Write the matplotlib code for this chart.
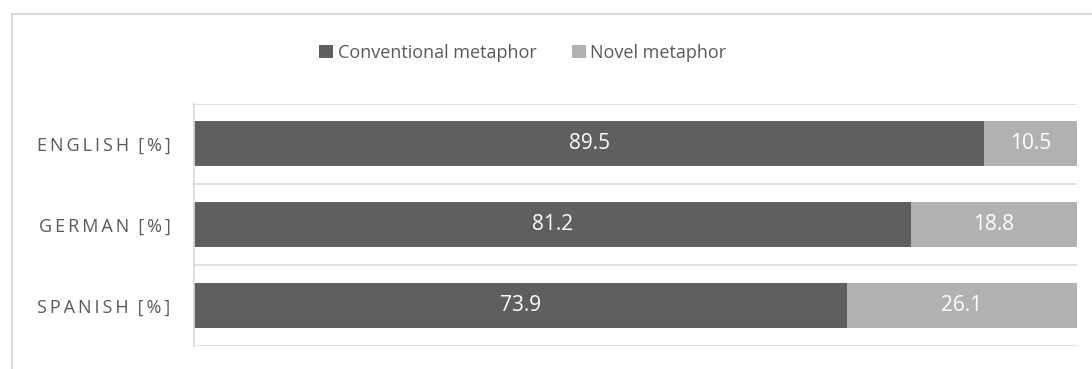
import matplotlib
matplotlib.use('Agg')
import matplotlib.pyplot as plt
from matplotlib.patches import Rectangle

plt.rcParams['font.family'] = ['Open Sans', 'DejaVu Sans']

# ------------------------------------------------------------
# Data
# ------------------------------------------------------------
languages = ['ENGLISH [%]', 'GERMAN [%]', 'SPANISH [%]']
conventional = [89.5, 81.2, 73.9]
novel = [10.5, 18.8, 26.1]

DARK = '#5f5f5f'
LIGHT = '#b1b1b1'
TEXT = '#595959'
GRID = '#d9d9d9'


def tracked(s):
    # letter-spaced category labels (thin space between glyphs)
    return '\u2009'.join(s.replace(' ', '\u2009'))


fig = plt.figure(figsize=(10.92, 3.69), dpi=100)
ax = fig.add_axes([194 / 1092, 1 - 345.7 / 369, (1077 - 194) / 1092, (345.7 - 103.5) / 369])

# chart border (runs off the right and bottom edge)
fig.patches.append(Rectangle((12 / 1092, -0.2), 1.2, 1.2 - 14 / 369,
                             transform=fig.transFigure, fill=False,
                             edgecolor=GRID, lw=1.5))

ypos = list(range(len(languages)))
bh = 0.557
b1 = ax.barh(ypos, conventional, height=bh, color=DARK, label='Conventional metaphor')
b2 = ax.barh(ypos, novel, left=conventional, height=bh, color=LIGHT, label='Novel metaphor')

for vals, lefts in ((conventional, [0] * 3), (novel, conventional)):
    for y, v, l in zip(ypos, vals, lefts):
        ax.text(l + v / 2, y, f'{v:.1f}', ha='center', va='center',
                color='white', fontsize=15)

ax.set_xlim(0, 100)
ax.set_ylim(len(languages) - 0.5, -0.5)
ax.set_yticks(ypos)
ax.set_yticklabels([tracked(s) for s in languages], color=TEXT, fontsize=13)
ax.tick_params(axis='y', length=0, pad=17)
ax.set_xticks([])

for b in [-0.5, 0.5, 1.5, 2.5]:
    ax.axhline(b, color=GRID, lw=1.2, zorder=0)
for side in ['top', 'right', 'bottom']:
    ax.spines[side].set_visible(False)
ax.spines['left'].set_color(GRID)
ax.spines['left'].set_linewidth(1.2)

fig.legend(handles=[b1, b2], loc='center', bbox_to_anchor=(523 / 1092, 1 - 53 / 369),
           ncol=2, frameon=False, fontsize=13, labelcolor=TEXT,
           handlelength=0.75, handleheight=0.75, handletextpad=0.25,
           columnspacing=2.0)

fig.savefig('out.png', dpi=100)
